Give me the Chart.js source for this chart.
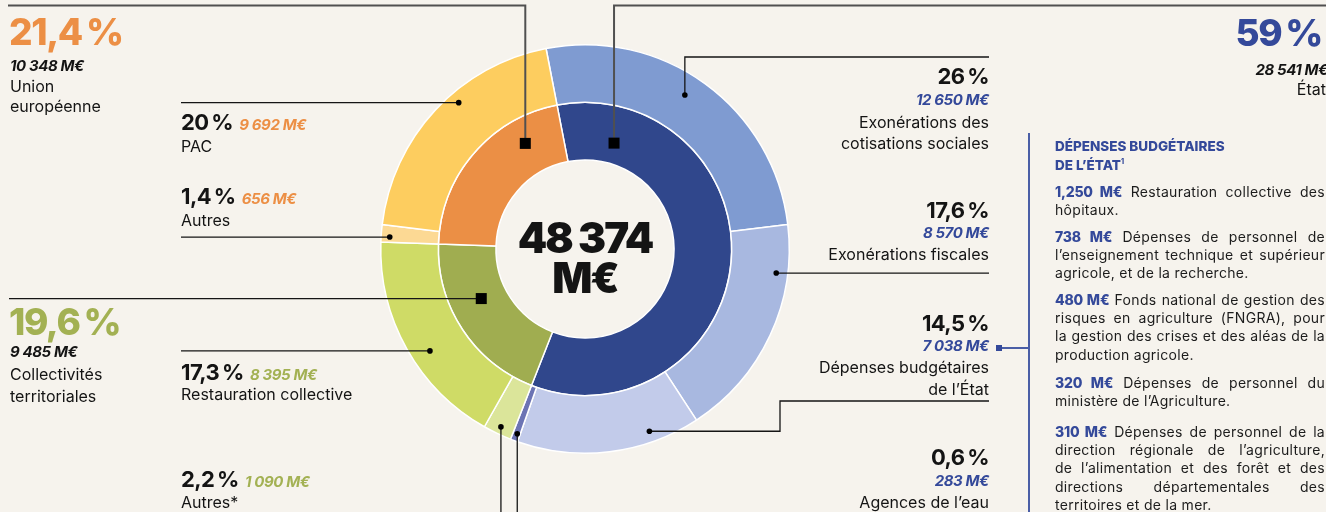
<!DOCTYPE html>
<html lang="fr">
<head>
<meta charset="utf-8">
<title>Financement de l’alimentation</title>
<script src="https://cdn.jsdelivr.net/npm/chart.js@4.4.1/dist/chart.umd.min.js"></script>
<style>
  html, body { margin: 0; padding: 0; background: #f6f3ed; }
  body { width: 1326px; height: 512px; overflow: hidden; position: relative; font-family: Inter, "Open Sans", sans-serif; color: #141414; }
  #wrap { position: absolute; left: 0; top: 0; width: 1326px; height: 512px; }
  .t { position: absolute; white-space: nowrap; line-height: 1; }
  .big { font-weight: 800; font-size: 37px; letter-spacing: -1.4px; }
  .pct { font-weight: 700; font-size: 22px; letter-spacing: -0.6px; }
  .amt { font-weight: 700; font-style: italic; font-size: 15px; letter-spacing: -0.4px; }
  .lbl { font-size: 16px; }
  .ctr { font-weight: 900; font-size: 42px; letter-spacing: -2px; }
  .orange { color: #ec8f45; }
  .green { color: #a3b153; }
  .blue { color: #34499a; }
  .panel { position: absolute; left: 1055px; width: 270px; font-size: 14px; line-height: 1; color: #1c1c1c; letter-spacing: 0.3px; }
  .panel b { color: #34499a; font-weight: 800; letter-spacing: -0.2px; }
  .just { text-align: justify; text-align-last: justify; word-spacing: -2px; }
  .head { font-weight: 800; color: #34499a; font-size: 13.5px; letter-spacing: 0; }
  #panelLine { position: absolute; left: 1028px; top: 133px; width: 2px; height: 379px; background: #4a5ea6; }
  #panelLink { position: absolute; left: 999px; top: 347px; width: 30px; height: 2px; background: #4a5ea6; }
  #panelSq { position: absolute; left: 996px; top: 345px; width: 6px; height: 6px; background: #34499a; }
</style>
</head>
<body>
<div id="wrap"><canvas id="chart"></canvas></div>
<div id="panelLine"></div>
<div id="panelLink"></div>
<div id="panelSq"></div>
<div id="notes"></div>
<script>
// outer ring: detailed sources (M€)
var outerLabels = ["Exonérations des cotisations sociales", "Exonérations fiscales", "Dépenses budgétaires de l’État", "Agences de l’eau", "Autres*", "Restauration collective", "Autres", "PAC"];
var outerValues = [12650, 8570, 7038, 283, 1090, 8395, 656, 9692];
var outerPercents = ["26", "17,6", "14,5", "0,6", "2,2", "17,3", "1,4", "20"];
var outerColors = ["#7f9bd1", "#a8b8e0", "#c2cbea", "#6c74b4", "#dbe59a", "#cfdb66", "#fcd994", "#fdcd5f"];

// inner ring: funders (M€)
var innerLabels = ["État", "Collectivités territoriales", "Union européenne"];
var innerValues = [28541, 9485, 10348];
var innerPercents = ["59", "19,6", "21,4"];
var innerColors = ["#30478c", "#a0ad50", "#eb8f45"];

var total = 48374;

function fmt(v) {
  return String(v).replace(/\B(?=(\d{3})+(?!\d))/g, "\u00a0");
}
function amt(v) { return fmt(v) + "\u00a0M€"; }
function pct(p) { return p + "\u2009%"; }

// leader lines: anchor inside an arc (t = along angle, u = across ring), then moves along x or y
var connectors = [
  { ds: 1, i: 2, t: 0.76, u: 0.56, mark: "square", color: "#505050", width: 2, path: [{ y: 5.5 }, { x: 8 }] },
  { ds: 1, i: 0, t: 0.124, u: 0.36, mark: "square", color: "#505050", width: 2, path: [{ y: 5.5 }, { x: 1326 }] },
  { ds: 1, i: 1, t: 0.61, u: 0.45, mark: "square", path: [{ x: 9 }] },
  { ds: 0, i: 0, t: 0.467, u: 0.64, mark: "dot", path: [{ y: 57 }, { x: 989 }] },
  { ds: 0, i: 1, t: 0.22, u: 0.8, mark: "dot", path: [{ x: 989 }] },
  { ds: 0, i: 2, t: 0.26, u: 0.81, mark: "dot", path: [{ x: 780 }, { y: 401 }, { x: 989 }] },
  { ds: 0, i: 3, t: 0.4, u: 0.87, mark: "dot", path: [{ y: 512 }] },
  { ds: 0, i: 4, t: 0.48, u: 0.87, mark: "dot", path: [{ y: 512 }] },
  { ds: 0, i: 5, t: 0.435, u: 0.675, mark: "dot", path: [{ x: 181 }] },
  { ds: 0, i: 6, t: 0.31, u: 0.85, mark: "dot", path: [{ x: 181 }] },
  { ds: 0, i: 7, t: 0.587, u: 0.81, mark: "dot", path: [{ x: 181 }] }
];

var leaderPlugin = {
  id: "leaders",
  afterDatasetsDraw: function (chart) {
    var ctx = chart.ctx;
    connectors.forEach(function (c) {
      var arc = chart.getDatasetMeta(c.ds).data[c.i];
      var a = arc.startAngle + c.t * (arc.endAngle - arc.startAngle);
      var r = arc.innerRadius + c.u * (arc.outerRadius - arc.innerRadius);
      var px = arc.x + r * Math.cos(a);
      var py = arc.y + r * Math.sin(a);
      ctx.save();
      ctx.strokeStyle = c.color || "#151515";
      ctx.lineWidth = c.width || 1.3;
      ctx.beginPath();
      ctx.moveTo(px, py);
      var x = px, y = py;
      c.path.forEach(function (s) {
        if (s.x !== undefined) x = s.x;
        if (s.y !== undefined) y = s.y;
        ctx.lineTo(x, y);
      });
      ctx.stroke();
      ctx.fillStyle = "#000";
      if (c.mark === "square") {
        ctx.fillRect(px - 5.5, py - 5.5, 11, 11);
      } else {
        ctx.beginPath();
        ctx.arc(px, py, 2.8, 0, Math.PI * 2);
        ctx.fill();
      }
      ctx.restore();
    });
  }
};

new Chart(document.getElementById("chart"), {
  type: "doughnut",
  data: {
    labels: outerLabels,
    datasets: [
      { label: "Sources", data: outerValues, backgroundColor: outerColors, borderColor: "#ffffff", borderWidth: 1.5 },
      { label: "Financeurs", data: innerValues, backgroundColor: innerColors, borderColor: "#ffffff", borderWidth: 1.5 }
    ]
  },
  options: {
    responsive: true,
    maintainAspectRatio: false,
    animation: false,
    events: [],
    rotation: -11,
    cutout: "43.6%",
    layout: { padding: { left: 380, right: 536, top: 44, bottom: 58 } },
    plugins: { legend: { display: false }, tooltip: { enabled: false } }
  },
  plugins: [leaderPlugin]
});

// text annotations: [html, x, baseline, font size, align]
var notes = [
  ['<span class="big orange">' + pct(innerPercents[2]) + '</span>', 9, 45, 37, "l"],
  ['<span class="amt">' + amt(innerValues[2]) + '</span>', 10, 71, 15, "l"],
  ['<span class="lbl">Union</span>', 10, 92, 16, "l"],
  ['<span class="lbl">européenne</span>', 10, 112, 16, "l"],
  ['<span class="pct">' + pct(outerPercents[7]) + '</span> <span class="amt orange">' + amt(outerValues[7]) + '</span>', 181, 130, 22, "l"],
  ['<span class="lbl">PAC</span>', 181, 152, 16, "l"],
  ['<span class="pct">' + pct(outerPercents[6]) + '</span> <span class="amt orange">' + amt(outerValues[6]) + '</span>', 181, 204, 22, "l"],
  ['<span class="lbl">Autres</span>', 181, 226, 16, "l"],
  ['<span class="big green">' + pct(innerPercents[1]) + '</span>', 9, 335, 37, "l"],
  ['<span class="amt">' + amt(innerValues[1]) + '</span>', 10, 357, 15, "l"],
  ['<span class="lbl">Collectivités</span>', 10, 380, 16, "l"],
  ['<span class="lbl">territoriales</span>', 10, 402, 16, "l"],
  ['<span class="pct">' + pct(outerPercents[5]) + '</span> <span class="amt green">' + amt(outerValues[5]) + '</span>', 181, 380, 22, "l"],
  ['<span class="lbl">Restauration collective</span>', 181, 400, 16, "l"],
  ['<span class="pct">' + pct(outerPercents[4]) + '</span> <span class="amt green">' + amt(outerValues[4]) + '</span>', 181, 487, 22, "l"],
  ['<span class="lbl">Autres*</span>', 181, 508, 16, "l"],

  ['<span class="pct">' + pct(outerPercents[0]) + '</span>', 989, 84, 22, "r"],
  ['<span class="amt blue">' + amt(outerValues[0]) + '</span>', 989, 105, 15, "r"],
  ['<span class="lbl">Exonérations des</span>', 989, 128, 16, "r"],
  ['<span class="lbl">cotisations sociales</span>', 989, 149, 16, "r"],
  ['<span class="pct">' + pct(outerPercents[1]) + '</span>', 989, 218, 22, "r"],
  ['<span class="amt blue">' + amt(outerValues[1]) + '</span>', 989, 238, 15, "r"],
  ['<span class="lbl">Exonérations fiscales</span>', 989, 260, 16, "r"],
  ['<span class="pct">' + pct(outerPercents[2]) + '</span>', 989, 331, 22, "r"],
  ['<span class="amt blue">' + amt(outerValues[2]) + '</span>', 989, 351, 15, "r"],
  ['<span class="lbl">Dépenses budgétaires</span>', 989, 373, 16, "r"],
  ['<span class="lbl">de l’État</span>', 989, 395, 16, "r"],
  ['<span class="pct">' + pct(outerPercents[3]) + '</span>', 989, 465, 22, "r"],
  ['<span class="amt blue">' + amt(outerValues[3]) + '</span>', 989, 486, 15, "r"],
  ['<span class="lbl">Agences de l’eau</span>', 989, 508, 16, "r"],

  ['<span class="big blue">' + pct(innerPercents[0]) + '</span>', 1322, 46, 37, "r"],
  ['<span class="amt">' + amt(innerValues[0]) + '</span>', 1328, 75, 15, "r"],
  ['<span class="lbl">' + innerLabels[0] + '</span>', 1326, 95, 16, "r"],

  ['<span class="ctr">' + fmt(total) + '</span>', 585, 253, 42, "c"],
  ['<span class="ctr">M€</span>', 585, 293, 42, "c"]
];

var box = document.getElementById("notes");
notes.forEach(function (n) {
  var d = document.createElement("div");
  d.className = "t";
  d.style.fontSize = n[3] + "px";
  d.style.top = (n[2] - 0.863 * n[3]) + "px";
  if (n[4] === "l") d.style.left = n[1] + "px";
  else if (n[4] === "r") d.style.right = (1326 - n[1]) + "px";
  else { d.style.left = (n[1] - 200) + "px"; d.style.width = "400px"; d.style.textAlign = "center"; }
  d.innerHTML = n[0];
  box.appendChild(d);
});

// side panel: detail of the state budget spending
var panelHead = [["DÉPENSES BUDGÉTAIRES", 152], ["DE L’ÉTAT<sup style=\"font-size:7px\">1</sup>", 170]];
var panelParas = [
  [197, ["<b>1,250\u00a0M€</b> Restauration collective des", "hôpitaux."]],
  [242, ["<b>738\u00a0M€</b> Dépenses de personnel de", "l’enseignement technique et supérieur", "agricole, et de la recherche."]],
  [305, ["<b>480\u00a0M€</b> Fonds national de gestion des", "risques en agriculture (FNGRA), pour", "la gestion des crises et des aléas de la", "production agricole."]],
  [388, ["<b>320\u00a0M€</b> Dépenses de personnel du", "ministère de l’Agriculture."]],
  [437, ["<b>310\u00a0M€</b> Dépenses de personnel de la", "direction régionale de l’agriculture,", "de l’alimentation et des forêt et des", "directions départementales des", "territoires et de la mer."]]
];
panelHead.forEach(function (h) {
  var d = document.createElement("div");
  d.className = "panel head";
  d.style.top = (h[1] - 0.863 * 13.5) + "px";
  d.innerHTML = h[0];
  box.appendChild(d);
});
panelParas.forEach(function (p) {
  p[1].forEach(function (line, k) {
    var d = document.createElement("div");
    d.className = "panel" + (k < p[1].length - 1 ? " just" : "");
    d.style.top = (p[0] + k * 18.2 - 0.863 * 14) + "px";
    d.innerHTML = line;
    box.appendChild(d);
  });
});
</script>
</body>
</html>
